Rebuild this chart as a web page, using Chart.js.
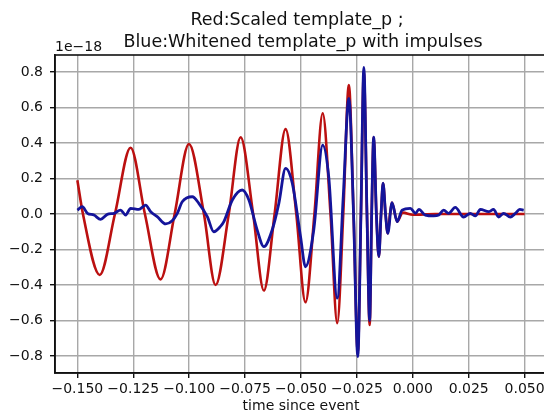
<!DOCTYPE html>
<html>
<head>
<meta charset="utf-8">
<script src="https://cdn.jsdelivr.net/npm/chart.js@4/dist/chart.umd.min.js"></script>
<style>
html,body{margin:0;padding:0;background:#fff;overflow:hidden;}
#wrap{width:548px;height:418px;position:relative;}
</style>
</head>
<body>
<div id="wrap"><canvas id="c"></canvas></div>
<script>
/* ===== data (values in units of 1e-18) ===== */
const redT=[-0.150,-0.1475,-0.140,-0.1332,-0.1262,-0.1198,-0.1128,-0.1065,-0.1001,-0.0934,-0.0882,-0.0823,-0.0770,-0.0714,-0.0666,-0.0618,-0.0569,-0.0521,-0.0480,-0.0440,-0.0403,-0.0368,-0.0338,-0.0311,-0.0286,-0.0265,-0.0246,-0.0232,-0.0219,-0.0205,-0.0193,-0.0184,-0.0175,-0.0163,-0.0152,-0.0142,-0.0133,-0.0122,-0.0112,-0.0102,-0.0093,-0.0070,-0.0045,0.000,0.010,0.050];
const redV=[0.19,0,-0.343,0,0.373,0,-0.368,0,0.394,0,-0.40,0,0.432,0,-0.431,0,0.478,0,-0.497,0,0.567,0,-0.615,0,0.726,0,-0.78,0,0.80,0,-0.625,0,0.432,0,-0.24,0,0.173,0,-0.109,0,0.064,-0.043,0.008,-0.004,0.0,0.0];

const blueT=[-0.150,-0.1478,-0.1455,-0.1426,-0.1396,-0.1366,-0.1336,-0.1307,-0.1284,-0.1262,-0.1225,-0.1195,-0.1172,-0.1143,-0.1105,-0.1076,-0.1053,-0.1031,-0.0986,-0.0957,-0.0919,-0.0890,-0.0860,-0.0845,-0.0807,-0.0763,-0.0733,-0.0696,-0.0666,-0.0629,-0.0599,-0.0569,-0.0539,-0.0502,-0.0480,-0.0443,-0.0403,-0.0376,-0.0338,-0.0311,-0.0286,-0.0265,-0.0246,-0.0232,-0.0219,-0.0205,-0.0193,-0.0184,-0.0175,-0.0163,-0.0152,-0.0142,-0.0133,-0.0122,-0.0112,-0.0093,-0.0070,-0.0048,-0.0011,0.0012,0.0027,0.0056,0.0093,0.0116,0.0138,0.0160,0.0190,0.0227,0.0257,0.0280,0.0302,0.0339,0.0361,0.0384,0.0406,0.0436,0.0459,0.0478,0.0496];
const blueV=[0.022,0.041,0.004,-0.006,-0.030,-0.002,0.004,0.022,-0.006,0.032,0.026,0.050,0.013,-0.015,-0.056,-0.038,0.004,0.069,0.097,0.060,-0.015,-0.100,-0.070,-0.043,0.079,0.135,0.079,-0.090,-0.184,-0.090,0.060,0.257,0.173,-0.128,-0.297,-0.090,0.388,0.210,-0.474,0.10,0.651,0,-0.803,0,0.825,0,-0.600,0,0.432,0,-0.240,0,0.173,0,-0.109,0.064,-0.043,0.022,0.032,0.004,0.026,-0.006,-0.011,-0.006,0.022,0.004,0.037,-0.017,0.004,-0.011,0.026,0.013,0.026,-0.017,0.004,-0.017,0.004,0.026,0.022];

const xTicks=[-0.150,-0.125,-0.100,-0.075,-0.050,-0.025,0.000,0.025,0.050];
const yTicks=[-0.8,-0.6,-0.4,-0.2,0.0,0.2,0.4,0.6,0.8];

const titleLines=["Red:Scaled template_p ;","Blue:Whitened template_p with impulses"];
const xLabel="time since event";
const offsetText="1e\u221218";

const pts=(t,v)=>t.map((x,i)=>({x:x,y:v[i]}));
const minus=s=>s.replace("-","\u2212");

/* ===== frame + texts ===== */
const decor={
id:"decor",
afterDraw(chart){
const ctx=chart.ctx,a=chart.chartArea;
ctx.save();
ctx.strokeStyle="#111";
ctx.lineWidth=1.6;
ctx.strokeRect(a.left,a.top,a.right-a.left,a.bottom-a.top);
ctx.fillStyle="#111";
ctx.textBaseline="alphabetic";
ctx.font="17.5px 'DejaVu Sans'";
ctx.textAlign="center";
ctx.fillText(titleLines[0],297,25);
ctx.fillText(titleLines[1],303,47);
ctx.font="14px 'DejaVu Sans'";
ctx.textAlign="left";
ctx.fillText(offsetText,55,51);
ctx.textAlign="center";
ctx.fillText(xLabel,301,410);
ctx.restore();
}
};

new Chart(document.getElementById("c"),{
type:"line",
data:{
datasets:[
{data:pts(redT,redV),borderColor:"#bb1010",borderWidth:2.6,pointRadius:0,cubicInterpolationMode:"monotone",order:2},
{data:pts(blueT,blueV),borderColor:"#14149a",borderWidth:2.8,pointRadius:0,cubicInterpolationMode:"monotone",order:1}
]
},
options:{
responsive:true,
maintainAspectRatio:false,
animation:false,
layout:{padding:{top:55,right:1,left:0,bottom:0}},
plugins:{legend:{display:false},tooltip:{enabled:false}},
scales:{
x:{
type:"linear",min:-0.16,max:0.06,
afterBuildTicks:s=>{s.ticks=xTicks.map(v=>({value:v}));},
afterFit:s=>{s.height=45;},
grid:{color:"#a8a8a8",lineWidth:1.4,tickColor:"#111",tickLength:5},
border:{color:"#111",width:1.6},
ticks:{color:"#111",padding:3,maxRotation:0,autoSkip:false,font:{family:"DejaVu Sans",size:14},callback:v=>minus(v.toFixed(3))}
},
y:{
type:"linear",min:-0.895,max:0.895,
afterBuildTicks:s=>{s.ticks=yTicks.map(v=>({value:v}));},
afterFit:s=>{s.width=55;},
grid:{color:"#a8a8a8",lineWidth:1.4,tickColor:"#111",tickLength:5},
border:{color:"#111",width:1.6},
ticks:{color:"#111",padding:7,font:{family:"DejaVu Sans",size:14},callback:v=>minus(v.toFixed(1))}
}
}
},
plugins:[decor]
});
</script>
</body>
</html>
